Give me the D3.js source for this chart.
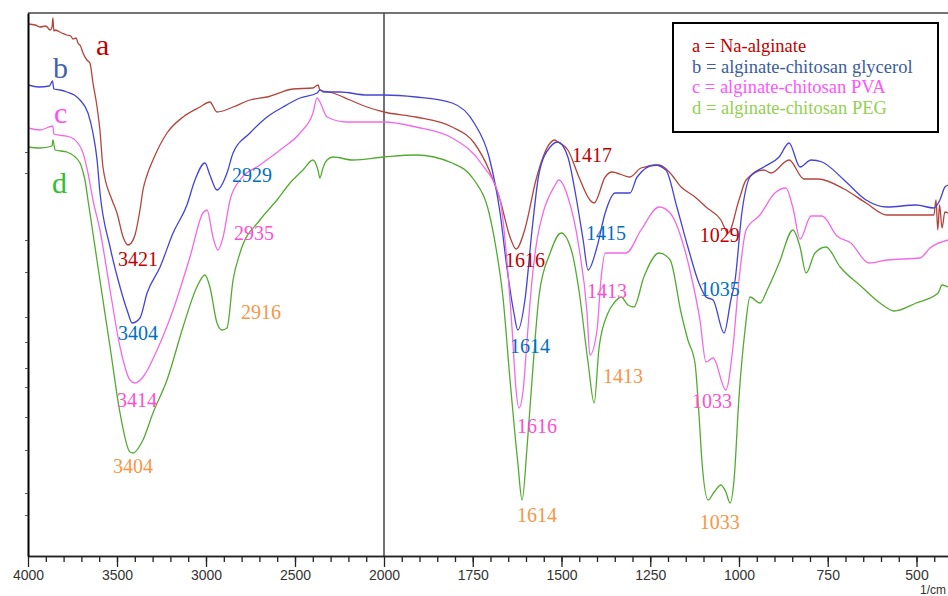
<!DOCTYPE html>
<html>
<head>
<meta charset="utf-8">
<script src="https://cdn.jsdelivr.net/npm/d3@7"></script>
<style>
  body { margin: 0; background: #fff; }
</style>
</head>
<body>
<svg id="ftir" width="948" height="596"></svg>
<script>
// FTIR spectra (offset curves), transmittance in arbitrary units vs wavenumber (1/cm)
const leftTicks = [4000, 3500, 3000, 2500, 2000];
const rightTicks = [1750, 1500, 1250, 1000, 750, 500];
const yTickVals = [80.8, 76.6, 63.2, 56.8, 47.8, 42.8, 37.6, 33.8, 27.8, 21.2, 12.6, 8.2];

const legendLabels = [
  "a = Na-alginate",
  "b = alginate-chitosan glycerol",
  "c = alginate-chitosan PVA",
  "d = alginate-chitosan PEG"
];

// a = Na-alginate
const seriesA = [[4000,106.4],[3960,106.2],[3933,105.8],[3900,106.0],[3875,105.2],[3865,105.8],[3860,107.6],[3855,105.0],[3848,105.2],[3810,104.6],[3781,104.2],[3760,104.0],[3747,103.4],[3730,103.6],[3719,102.6],[3705,102.0],[3691,100.6],[3669,99.2],[3652,98.6],[3635,94.6],[3612,89.8],[3596,85.2],[3579,77.8],[3528,71.2],[3500,68.6],[3466,63.8],[3438,62.2],[3420,62.6],[3399,64.2],[3371,69.2],[3354,73.2],[3331,76.2],[3298,79.2],[3219,84.6],[3129,87.8],[3034,89.8],[2978,90.8],[2938,88.8],[2848,89.8],[2753,91.2],[2657,91.8],[2511,93.4],[2400,93.6],[2370,94.2],[2360,93.2],[2287,92.6],[2191,91.2],[2096,89.8],[2000,88.8],
  [1910,87.8],[1808,85.8],[1746,82.6],[1704,77.2],[1673,71.2],[1645,63.8],[1628,61.4],[1603,65.4],[1572,75.2],[1552,79.8],[1532,82.6],[1520,83.2],[1510,82.8],[1482,81.2],[1451,75.8],[1420,71.2],[1408,70.6],[1377,75.8],[1358,76.8],[1307,75.8],[1276,77.6],[1225,78.2],[1194,76.6],[1163,73.8],[1124,71.8],[1093,69.8],[1051,67.2],[1031,64.6],[1000,71.2],[980,75.2],[930,77.2],[910,76.6],[859,79.2],[817,75.4],[777,75.4],[704,73.4],[642,70.6],[583,68.2],[451,68.2],[445,71.2],[440,65.2],[435,70.2],[428,65.6],[420,68.8],[411,68.6]];

// b = alginate-chitosan glycerol
const seriesB = [[4000,94.2],[3940,93.8],[3880,94.0],[3862,95.0],[3855,93.4],[3820,93.2],[3781,92.8],[3740,92.2],[3708,91.2],[3663,88.6],[3635,84.6],[3612,79.2],[3596,72.8],[3539,61.8],[3483,53.8],[3440,48.8],[3415,46.6],[3371,47.6],[3331,52.6],[3258,57.8],[3185,64.6],[3107,70.2],[3062,75.2],[3006,78.6],[2978,76.2],[2938,73.2],[2882,76.6],[2848,80.6],[2753,84.6],[2657,87.8],[2567,89.8],[2472,91.6],[2376,92.6],[2360,93.2],[2340,92.8],[2247,92.8],[2096,92.2],[2000,92.2],
  [1910,91.8],[1808,90.6],[1746,86.6],[1704,79.8],[1673,68.6],[1654,57.8],[1634,48.6],[1623,45.2],[1603,51.2],[1583,65.2],[1563,76.6],[1532,81.8],[1510,82.8],[1482,79.8],[1459,71.8],[1439,63.2],[1425,57.2],[1400,61.8],[1377,68.6],[1349,72.6],[1307,72.6],[1287,75.8],[1237,78.2],[1206,77.2],[1175,69.8],[1144,61.8],[1113,54.6],[1093,51.8],[1073,51.2],[1042,44.6],[1023,51.2],[1011,55.2],[992,68.6],[969,75.8],[930,77.8],[887,79.8],[859,82.6],[828,77.8],[797,79.2],[766,78.8],[704,75.2],[642,71.2],[583,69.8],[501,70.2],[451,69.6],[434,71.2],[420,73.8],[411,74.2]];

// c = alginate-chitosan PVA
const seriesC = [[4000,85.6],[3933,85.2],[3860,86.0],[3855,84.4],[3764,83.8],[3697,81.2],[3663,76.6],[3635,71.2],[3596,65.2],[3539,53.2],[3483,41.8],[3427,35.2],[3399,34.6],[3354,35.8],[3275,41.2],[3185,49.2],[3090,59.8],[3017,68.6],[2994,69.2],[2961,63.8],[2933,61.2],[2904,63.8],[2865,71.2],[2809,75.2],[2697,78.2],[2584,81.2],[2472,84.6],[2399,88.6],[2376,91.6],[2360,90.8],[2320,87.8],[2208,86.8],[2000,86.8],
  [1910,85.8],[1808,83.6],[1727,78.6],[1673,71.2],[1654,59.2],[1639,45.2],[1628,33.2],[1620,29.6],[1608,33.2],[1597,43.2],[1583,55.2],[1569,63.2],[1552,68.6],[1521,73.8],[1507,75.2],[1482,71.8],[1451,61.8],[1428,48.6],[1420,40.2],[1400,45.2],[1389,55.2],[1377,60.6],[1318,60.6],[1276,65.2],[1225,69.8],[1194,68.6],[1155,61.8],[1132,55.2],[1110,47.2],[1093,38.8],[1073,39.6],[1037,33.2],[1017,41.8],[1000,55.2],[980,65.2],[941,68.2],[899,72.6],[868,73.6],[848,69.6],[828,63.4],[797,68.0],[766,68.0],[724,64.0],[685,62.6],[634,58.6],[583,59.2],[490,59.6],[462,61.6],[411,63.2]];

// d = alginate-chitosan PEG
const seriesD = [[4000,81.8],[3933,81.6],[3865,82.0],[3860,83.2],[3848,81.2],[3781,80.8],[3708,78.6],[3691,76.8],[3680,75.2],[3663,71.2],[3652,68.6],[3596,55.2],[3539,41.8],[3483,28.6],[3427,20.8],[3410,20.6],[3354,23.2],[3298,28.6],[3219,35.2],[3129,45.8],[3051,53.8],[3006,56.2],[2978,53.8],[2938,46.6],[2910,45.2],[2882,45.6],[2848,55.2],[2809,60.6],[2697,67.2],[2601,71.2],[2528,74.6],[2455,77.2],[2399,79.2],[2371,77.2],[2360,75.6],[2343,77.6],[2320,79.2],[2287,79.8],[2174,79.2],[2000,79.8],
  [1910,80.2],[1808,78.6],[1746,75.2],[1704,68.6],[1685,61.8],[1665,51.8],[1645,35.2],[1623,18.6],[1611,11.2],[1597,21.8],[1583,35.2],[1563,52.2],[1532,60.6],[1501,64.6],[1470,60.6],[1451,53.2],[1425,38.6],[1408,30.6],[1394,41.8],[1369,48.6],[1352,50.6],[1332,51.8],[1313,50.2],[1296,49.8],[1268,55.8],[1225,60.6],[1194,59.2],[1163,48.6],[1144,43.2],[1124,38.6],[1113,28.6],[1104,18.6],[1087,11.2],[1070,12.8],[1051,14.2],[1037,12.8],[1025,10.6],[1014,15.2],[1000,31.8],[983,45.2],[969,51.8],[941,50.6],[918,53.6],[887,58.6],[848,65.2],[828,61.8],[811,56.6],[786,60.6],[755,61.8],[715,57.8],[654,53.8],[603,50.6],[563,49.0],[501,50.6],[439,52.6],[428,54.2],[411,53.8]];

// peak annotations: text, colour group, wavenumber (centre), transmittance (baseline)
const peakLabels = [
  ["3421","red",3382,58.0],["3404","blue",3382,43.2],["3414","pink",3388,29.8],["3404","orange",3410,16.6],
  ["2929","blue",2742,74.8],["2935","pink",2730,63.2],["2916","orange",2691,47.4],
  ["1417","red",1414,78.8],["1616","red",1603,57.8],["1415","blue",1375,63.2],["1029","red",1054,62.8],
  ["1413","pink",1372,51.6],["1035","blue",1054,52.0],["1614","blue",1589,40.6],["1413","orange",1327,34.6],
  ["1616","pink",1569,24.6],["1033","pink",1076,29.6],["1614","orange",1569,6.8],["1033","orange",1054,5.4]
];

// curve letters: letter, wavenumber (left edge), transmittance (baseline)
const curveLetters = [["a",3618,100.2],["b",3860,95.6],["c",3854,86.6],["d",3865,72.6]];

var dimensions = {
  width: 948,
  height: 596,
  margin: { top: 13, bottom: 40, left: 28, right: 0 },
  split: 384
};
const bottomY = dimensions.height - dimensions.margin.bottom;

const lineColors = { a: "#b5443c", b: "#4444d4", c: "#f26ae8", d: "#52ab30" };
const peakColors = { red: "#c00000", blue: "#0070c0", pink: "#ff4fcf", orange: "#f79646" };
const letterColors = { a: "#c00000", b: "#3d64a8", c: "#ff4ff0", d: "#2ec02e" };
const legendColors = ["#c00000", "#3b5d9c", "#ff55ff", "#92d050"];

const svg = d3.select("#ftir");

const xLeft = d3.scaleLinear().domain([4000, 2000]).range([dimensions.margin.left, dimensions.split]);
const xRight = d3.scaleLinear().domain([2000, 400]).range([dimensions.split, 952]);
const x = w => (w >= 2000 ? xLeft(w) : xRight(w));
const y = d3.scaleLinear().domain([0, 108.6]).range([bottomY, dimensions.margin.top]);

svg.append("defs").append("clipPath").attr("id", "plot-clip")
  .append("rect")
  .attr("x", dimensions.margin.left)
  .attr("y", dimensions.margin.top)
  .attr("width", dimensions.width - dimensions.margin.left)
  .attr("height", bottomY - dimensions.margin.top);

// frame: top border and divider between the two x ranges
svg.append("line")
  .attr("x1", dimensions.margin.left).attr("x2", dimensions.width)
  .attr("y1", dimensions.margin.top).attr("y2", dimensions.margin.top)
  .attr("stroke", "#444").attr("stroke-width", 1.5);
svg.append("line")
  .attr("x1", xLeft(2000)).attr("x2", xLeft(2000))
  .attr("y1", dimensions.margin.top).attr("y2", bottomY)
  .attr("stroke", "#444").attr("stroke-width", 1.5);

// spectra
const line = d3.line()
  .x(d => x(d[0]))
  .y(d => y(d[1]))
  .curve(d3.curveMonotoneX);

const series = { a: seriesA, b: seriesB, c: seriesC, d: seriesD };
const plot = svg.append("g").attr("clip-path", "url(#plot-clip)");
Object.keys(series).forEach(k => {
  plot.append("path")
    .datum(series[k])
    .attr("d", line)
    .attr("fill", "none")
    .attr("stroke", lineColors[k])
    .attr("stroke-width", 1.3)
    .attr("stroke-linejoin", "round");
});

// x axes (major + minor ticks) for both halves
function styleAxis(g) {
  g.selectAll("path, line").attr("stroke", "#222").attr("stroke-width", 1.3);
  g.selectAll("text")
    .attr("fill", "#333")
    .style("font-family", "'Liberation Sans', Arial, sans-serif")
    .style("font-size", "14px");
}

svg.append("g")
  .attr("transform", `translate(0,${bottomY})`)
  .call(d3.axisBottom(xLeft).tickValues(d3.range(3900, 2000, -100)).tickSize(6).tickSizeOuter(0).tickFormat(""))
  .call(styleAxis);
svg.append("g")
  .attr("transform", `translate(0,${bottomY})`)
  .call(d3.axisBottom(xRight).tickValues(d3.range(1950, 400, -50)).tickSize(6).tickSizeOuter(0).tickFormat(""))
  .call(styleAxis);
svg.append("g")
  .attr("transform", `translate(0,${bottomY})`)
  .call(d3.axisBottom(xLeft).tickValues(leftTicks).tickSize(11).tickSizeOuter(0).tickFormat(d3.format("d")))
  .call(styleAxis);
svg.append("g")
  .attr("transform", `translate(0,${bottomY})`)
  .call(d3.axisBottom(xRight).tickValues(rightTicks).tickSize(11).tickSizeOuter(0).tickFormat(d3.format("d")))
  .call(styleAxis);

svg.append("text")
  .attr("x", 946).attr("y", 594)
  .attr("text-anchor", "end")
  .attr("fill", "#333")
  .style("font-family", "'Liberation Sans', Arial, sans-serif")
  .style("font-size", "12px")
  .text("1/cm");

// left y axis, unlabeled
const yAxis = svg.append("g")
  .attr("transform", `translate(${dimensions.margin.left},0)`)
  .call(d3.axisLeft(y).tickValues(yTickVals).tickSize(3).tickSizeOuter(0).tickFormat(""));
yAxis.select(".domain").attr("stroke", "#000").attr("stroke-width", 2);
yAxis.selectAll(".tick line").attr("stroke", "#555");

// curve letters
svg.append("g").selectAll("text")
  .data(curveLetters)
  .join("text")
  .attr("x", d => x(d[1]))
  .attr("y", d => y(d[2]))
  .attr("fill", d => letterColors[d[0]])
  .style("font-family", "'Liberation Serif', 'Times New Roman', serif")
  .style("font-size", "30px")
  .text(d => d[0]);

// peak labels
svg.append("g").selectAll("text")
  .data(peakLabels)
  .join("text")
  .attr("x", d => x(d[2]))
  .attr("y", d => y(d[3]))
  .attr("text-anchor", "middle")
  .attr("fill", d => peakColors[d[1]])
  .style("font-family", "'Liberation Serif', 'Times New Roman', serif")
  .style("font-size", "20px")
  .text(d => d[0]);

// legend
const legend = svg.append("g").attr("transform", "translate(673,23)");
legend.append("rect")
  .attr("width", 265).attr("height", 109)
  .attr("fill", "#fff")
  .attr("stroke", "#000").attr("stroke-width", 2);
legend.selectAll("text")
  .data(legendLabels)
  .join("text")
  .attr("x", 19)
  .attr("y", (d, i) => 29 + i * 20.5)
  .attr("fill", (d, i) => legendColors[i])
  .style("font-family", "'Liberation Serif', 'Times New Roman', serif")
  .style("font-size", "18.5px")
  .text(d => d);
</script>
</body>
</html>
